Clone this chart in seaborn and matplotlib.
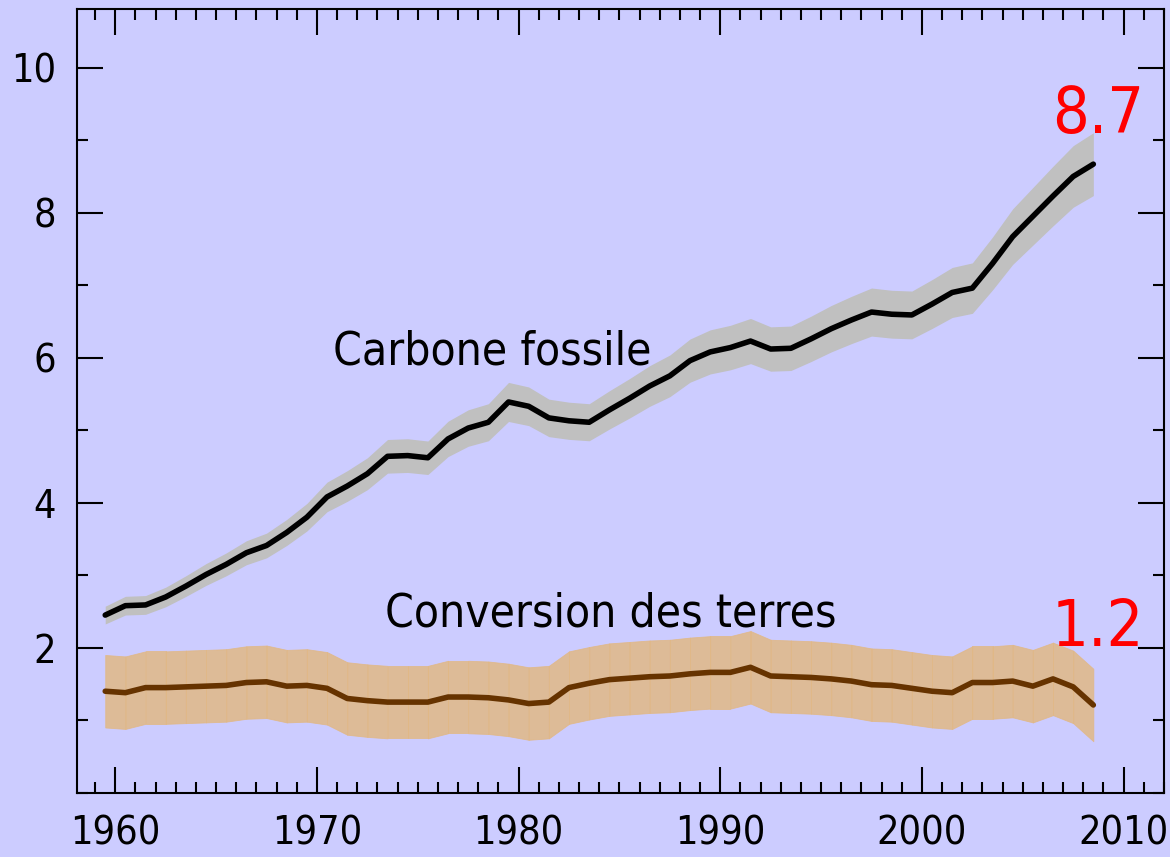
import numpy as np
import pandas as pd
import matplotlib
matplotlib.use("Agg")
import matplotlib.pyplot as plt
from matplotlib import font_manager
from matplotlib.ticker import MultipleLocator
import seaborn as sns

# annual emissions, GtC/yr
years = list(range(1959, 2009))
fossil = [2.45, 2.58, 2.59, 2.70, 2.85, 3.01, 3.15, 3.31, 3.41, 3.59,
          3.80, 4.08, 4.23, 4.40, 4.64, 4.65, 4.62, 4.88, 5.03, 5.11,
          5.39, 5.33, 5.17, 5.13, 5.11, 5.28, 5.44, 5.61, 5.75, 5.96,
          6.08, 6.14, 6.23, 6.12, 6.13, 6.26, 6.40, 6.52, 6.63, 6.60,
          6.59, 6.74, 6.90, 6.96, 7.30, 7.67, 7.95, 8.23, 8.50, 8.67]
land = [1.40, 1.38, 1.45, 1.45, 1.46, 1.47, 1.48, 1.52, 1.53, 1.47,
        1.48, 1.44, 1.30, 1.27, 1.25, 1.25, 1.25, 1.32, 1.32, 1.31,
        1.28, 1.23, 1.25, 1.45, 1.51, 1.56, 1.58, 1.60, 1.61, 1.64,
        1.66, 1.66, 1.73, 1.61, 1.60, 1.59, 1.57, 1.54, 1.49, 1.48,
        1.44, 1.40, 1.38, 1.52, 1.52, 1.54, 1.47, 1.57, 1.46, 1.21]
fossil_err = 0.05   # relative uncertainty
land_err = 0.5      # absolute uncertainty

label_fossil = "Carbone fossile"
label_land = "Conversion des terres"

bg = "#CCCCFF"
sns.set_style("ticks", {"axes.facecolor": bg, "figure.facecolor": bg,
                        "axes.edgecolor": "black", "text.color": "black",
                        "xtick.color": "black", "ytick.color": "black"})

# the original uses a condensed sans; take a narrow one if there is one
font_name, font_stretch = "Liberation Sans", "normal"
for f in font_manager.fontManager.ttflist:
    narrow = ("Narrow" in f.name or "Condensed" in f.name
              or f.stretch in ("condensed", "semi-condensed"))
    if narrow and f.style == "normal" and f.weight in (400, "normal", "regular") \
            and "Mono" not in f.name and "Serif" not in f.name:
        font_name, font_stretch = f.name, f.stretch
        break
plt.rcParams["font.family"] = [font_name, "DejaVu Sans"]
plt.rcParams["font.stretch"] = font_stretch

df = pd.DataFrame({"year": years, "fossil": fossil, "land": land})
df["x"] = df["year"] + 0.5  # values centred on mid-year

fig = plt.figure(figsize=(11.7, 8.57), dpi=100)
ax = fig.add_axes([0.0658, 0.075, 0.929, 0.9145])
renderer = fig.canvas.get_renderer()


def fit_size(s, width_px, cap_px):
    # font size that gives the reference text width, not taller than the reference
    t = fig.text(0, 0, s, fontsize=100)
    w = t.get_window_extent(renderer=renderer).width
    t.remove()
    return min(100 * width_px / w, cap_px / 0.72 * 72 / 100)


tick_size = fit_size("1960", 90, 37.7)
text_size = fit_size(label_fossil, 318, 38)
red_size = fit_size("8.7", 92, 53)

ax.fill_between(df["x"], df["fossil"] * (1 - fossil_err), df["fossil"] * (1 + fossil_err),
                color="#C0C0C0", lw=0)
for i in range(len(df) - 1):
    seg = df.iloc[i:i + 2]
    ax.fill_between(seg["x"], seg["land"] - land_err, seg["land"] + land_err,
                    color=(225/255, 184/255, 133/255), alpha=0.85, lw=0.6)

sns.lineplot(data=df, x="x", y="fossil", color="black", lw=4.0, ax=ax)
sns.lineplot(data=df, x="x", y="land", color="#663300", lw=4.0, ax=ax)

ax.set_xlim(1958.1, 2012.0)
ax.set_ylim(0, 10.81)
ax.xaxis.set_major_locator(MultipleLocator(10))
ax.xaxis.set_minor_locator(MultipleLocator(1))
ax.set_yticks([2, 4, 6, 8, 10])
ax.yaxis.set_minor_locator(MultipleLocator(1))
ax.set_xlabel("")
ax.set_ylabel("")

ax.tick_params(which="both", direction="in", top=True, right=True, width=1.5,
               color="black", labelcolor="black")
ax.tick_params(which="major", length=19, labelsize=tick_size)
ax.tick_params(which="minor", length=8)
ax.tick_params(axis="x", pad=16)
ax.tick_params(axis="y", pad=15)
for s in ax.spines.values():
    s.set_linewidth(1.5)
    s.set_visible(True)

ax.text(1970.78, 5.90, label_fossil, fontsize=text_size, ha="left", va="baseline")
ax.text(1973.38, 2.29, label_land, fontsize=text_size, ha="left", va="baseline")
ax.text(2011.0, 9.10, f"{fossil[-1]:.1f}", color="red", fontsize=red_size,
        ha="right", va="baseline")
ax.text(2011.0, 2.02, f"{land[-1]:.1f}", color="red", fontsize=red_size,
        ha="right", va="baseline")

fig.savefig("out.png", dpi=100, facecolor=bg)
